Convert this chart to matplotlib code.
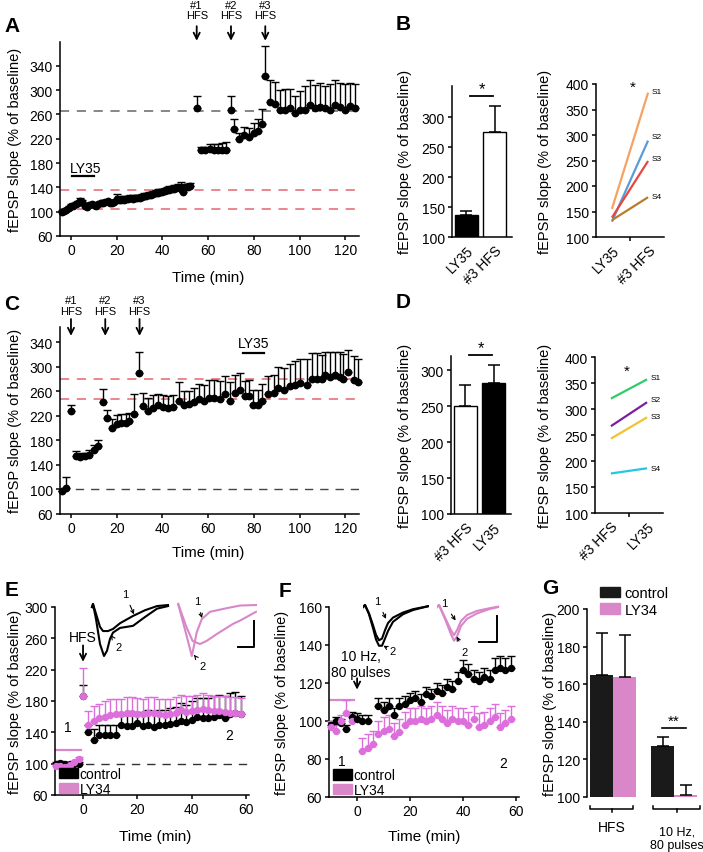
import matplotlib
matplotlib.use('Agg')
import matplotlib.pyplot as plt
import numpy as np
from matplotlib.patches import Patch

plt.rcParams['font.family'] = ['Liberation Sans', 'DejaVu Sans']
plt.rcParams['font.size'] = 10
plt.rcParams['axes.linewidth'] = 1.1
plt.rcParams['xtick.major.width'] = 1.1
plt.rcParams['ytick.major.width'] = 1.1
plt.rcParams['xtick.major.size'] = 3
plt.rcParams['ytick.major.size'] = 3
plt.rcParams['xtick.major.pad'] = 2
plt.rcParams['ytick.major.pad'] = 2

# ---------------- DATA ----------------
# Panel A
A_t_base = list(range(-4, 53))
A_base = [100,101,102,106,110,109,112,114,118,116,110,108,111,112,111,110,112,114,115,116,
          117,115,114,116,121,120,119,120,121,121,122,121,122,123,123,124,125,125,127,128,
          129,130,131,132,133,134,135,136,137,138,139,140,137,133,140,141,142]
A_base_err = [2,2,3,3,3,3,4,3,4,3,3,3,3,3,4,3,3,3,4,4,3,3,3,4,8,5,4,5,4,4,
              5,4,5,4,4,5,5,4,5,5,5,5,6,5,5,5,6,6,6,6,5,6,12,6,5,5,5]
A_t_post = [55, 57, 58.8, 60.6, 62.4, 64.2, 66, 67.6, 70, 71.4, 73.6, 75.8, 78, 79.9, 81.6, 83.7, 85,
            87, 89.2, 91.4, 93.6, 95.8, 98, 100.2, 102.4, 104.6, 106.8, 109, 111.2, 113.4, 115.6,
            117.8, 120, 122.2, 124.4]
A_post = [270, 202, 201, 203, 202, 201, 201, 201, 268, 236, 219, 226, 223, 229, 232, 244, 323,
          280, 277, 268, 268, 270, 262, 268, 268, 276, 270, 272, 270, 268, 275, 272, 268, 274, 270]
A_post_err = [21, 5, 6, 8, 9, 10, 12, 14, 22, 17, 10, 13, 15, 16, 20, 25, 49,
              36, 37, 32, 33, 32, 28, 30, 38, 40, 38, 40, 36, 42, 42, 40, 42, 38, 40]
A_hfs_times = [55, 70, 85]
A_hfs_labels = ['#1\nHFS', '#2\nHFS', '#3\nHFS']
A_ref_red = [104, 136]
A_ref_gray = 266

# Panel B
B_cats = ['LY35', '#3 HFS']
B_vals = [137, 276]
B_err = [7, 43]
B_slices = ['S1', 'S2', 'S3', 'S4']
B_start = [155, 130, 138, 133]
B_end = [383, 289, 249, 178]
B_colors = ['#f5a263', '#5b9bd8', '#e8473d', '#bb7a2c']

# Panel C
C_t = [-4, -2, 0, 2, 4, 6, 8, 10, 12, 14, 15.6, 17.8, 20, 22, 24, 25.5, 27.6, 29.8,
       31.6, 33.8, 36, 38.2, 40.4, 42.6, 44.8, 47.3, 49.6, 51.8, 54, 56.2, 58.4, 60.5, 62.7,
       65.2, 67.4, 69.6, 71.8, 74, 76.1, 78, 79.8, 82, 83.5, 86.4, 88.6, 90.7, 93.4, 95.8,
       98, 100.2, 103.1, 105.3, 107.5, 109.7, 111.2, 113.3, 115.5, 117.7, 119.2, 121.4, 123.6, 125.6]
C_vals = [97, 103, 228, 155, 153, 154, 156, 165, 171, 242, 216, 201, 206, 208, 209, 211, 223, 290,
          236, 228, 233, 238, 234, 233, 234, 245, 238, 239, 242, 247, 244, 250, 250,
          247, 255, 245, 257, 262, 252, 252, 238, 238, 244, 255, 257, 266, 263, 268,
          271, 274, 271, 280, 280, 280, 287, 284, 287, 284, 281, 292, 278, 275]
C_err = [0, 17, 10, 8, 6, 6, 8, 8, 9, 22, 14, 14, 15, 15, 14, 13, 33, 35,
         21, 22, 21, 18, 20, 20, 20, 30, 22, 22, 24, 25, 26, 28, 28,
         30, 30, 30, 30, 28, 25, 26, 25, 25, 28, 30, 30, 34, 35, 36,
         38, 38, 42, 42, 42, 40, 38, 40, 38, 40, 40, 35, 40, 38]
C_hfs_times = [0, 15, 30]
C_ref_red = [248, 281]
C_ref_black = 100

# Panel D
D_cats = ['#3 HFS', 'LY35']
D_vals = [251, 283]
D_err = [29, 24]
D_start = [320, 267, 243, 176]
D_end = [357, 313, 284, 186]
D_colors = ['#2fcc6a', '#7b1fa0', '#f2c230', '#27c6e0']

# Panel E
E_t_base = [-10, -8.3, -6.6, -4.9, -3.2, -1.5]
E_ctrl_base = [100, 101, 100, 99, 100, 100]
E_ly_base = [97, 97, 96, 98, 102, 106]
E_t_post = [0] + list(range(2, 60, 2))
E_ctrl_post = [186, 140, 130, 136, 136, 137, 137, 150, 148, 148, 152, 148, 150, 147, 150, 150,
               151, 152, 155, 153, 156, 160, 158, 158, 160, 162, 158, 164, 165, 163]
E_ctrl_err = [14, 10, 14, 14, 14, 13, 13, 12, 14, 14, 14, 16, 18, 18, 18, 18, 20, 20, 22, 22, 24,
              24, 26, 26, 26, 26, 28, 26, 26, 24]
E_ly_post = [187, 150, 155, 158, 160, 162, 163, 163, 165, 165, 164, 163, 165, 165, 163, 162,
             163, 165, 168, 166, 167, 168, 170, 168, 167, 167, 166, 165, 165, 164]
E_ly_err = [35, 17, 18, 18, 20, 20, 20, 20, 20, 20, 20, 20, 20, 20, 20, 20, 20, 20, 20, 20, 20,
            20, 20, 20, 20, 20, 20, 20, 20, 20]

# Panel F
F_t_base = [-10, -8, -6, -4, -2]
F_ctrl_base = [98, 100, 99, 96, 102]
F_ly_base = [97, 95, 100, 104, 100]
F_ctrl_base_err = [2, 2, 2, 2, 3]
F_ly_base_err = [3, 3, 3, 7, 3]
F_t_ctrl = [0, 2, 4] + list(range(8, 60, 2))
F_ctrl = [101, 100, 100, 108, 106, 108, 103, 108, 109, 111, 112, 110, 114, 113, 116, 115, 118,
          117, 121, 127, 125, 122, 121, 123, 122, 127, 128, 127, 128]
F_ctrl_err = [3, 3, 3, 4, 4, 4, 4, 4, 4, 4, 4, 4, 4, 4, 4, 4, 4, 4, 5, 5, 5, 5, 5, 5, 5, 6, 6, 6, 6]
F_t_ly = list(range(2, 60, 2))
F_ly = [84, 86, 88, 93, 95, 96, 92, 94, 98, 100, 100, 101, 100, 101, 103, 101, 99, 101, 100, 100,
        98, 101, 97, 98, 100, 102, 97, 99, 101]
F_ly_err = [7] * 29

# Panel G
G_groups = ['HFS', '10 Hz,\n80 pulses']
G_ctrl = [165, 127]
G_ctrl_err = [22, 5]
G_ly = [164, 101]
G_ly_err = [22, 5.5]

# example traces (time in ms, normalised amplitude)
E_blk_t1 = [1, 1.5, 3.5, 5, 6.5, 9, 11.5, 15, 21.5, 27.5, 33.5, 39]
E_blk_y1 = [-0.06, 0, -0.25, -0.44, -0.52, -0.52, -0.48, -0.37, -0.23, -0.12, -0.04, -0.02]
E_blk_t2 = [1, 1.5, 3, 5, 7, 8.5, 10, 11.5, 15, 21.5, 27.5, 33.5, 39]
E_blk_y2 = [-0.06, 0, -0.29, -0.77, -1.0, -0.9, -0.67, -0.55, -0.46, -0.42, -0.25, -0.09, -0.04]
E_pnk_t1 = [0.6, 4.8, 7.4, 8.5, 9.9, 12.4, 16.5, 24.9, 31.5, 39.5]
E_pnk_y1 = [0, -0.61, -1.0, -0.8, -0.54, -0.29, -0.15, -0.08, -0.03, -0.02]
E_pnk_t2 = [0.6, 4.8, 7.8, 11.5, 14.8, 19.8, 28.1, 31.5, 39.5]
E_pnk_y2 = [0, -0.45, -0.71, -0.77, -0.71, -0.58, -0.38, -0.32, -0.15]
F_blk_t1 = [0, 1, 3, 5, 6.5, 8, 9.5, 11, 12.5, 15, 20, 25, 32.5]
F_blk_y1 = [-0.05, 0, -0.2, -0.48, -0.71, -0.84, -0.8, -0.6, -0.43, -0.3, -0.18, -0.1, -0.03]
F_blk_t2 = [0, 1, 3, 5, 6.5, 8, 9.5, 11, 12.5, 15, 20, 25, 32.5]
F_blk_y2 = [-0.05, 0, -0.22, -0.55, -0.82, -0.97, -0.97, -0.8, -0.62, -0.4, -0.22, -0.12, -0.03]
F_pnk_t1 = [0, 1, 4, 7, 8.5, 10, 12, 15, 20, 26, 30.5]
F_pnk_y1 = [-0.05, 0, -0.3, -0.6, -0.72, -0.6, -0.38, -0.24, -0.14, -0.08, -0.04]
F_pnk_t2 = [0, 1, 4, 7, 8.5, 10, 12, 15, 20, 26, 30.5]
F_pnk_y2 = [-0.05, 0, -0.33, -0.7, -0.85, -0.75, -0.5, -0.33, -0.2, -0.1, -0.05]

# ---------------- STYLE ----------------
PINK_M = '#dc6fdc'
PINK_B = '#d987c9'
RED = '#e3666f'
YLAB = 'fEPSP slope (% of baseline)'

W, H = 703, 853
fig = plt.figure(figsize=(W / 100, H / 100), dpi=100)


def pax(l, t, r, b):
    ax = fig.add_axes([l / W, 1 - b / H, (r - l) / W, (b - t) / H])
    ax.spines['top'].set_visible(False)
    ax.spines['right'].set_visible(False)
    ax.patch.set_alpha(0)
    return ax


def ftext(x, y, s, **kw):
    kw.setdefault('ha', 'center')
    kw.setdefault('va', 'center')
    fig.text(x / W, 1 - y / H, s, **kw)


def errpts(ax, t, v, e, color, ms=4.6, z=3):
    e = np.asarray(e, dtype=float)
    ax.errorbar(t, v, yerr=[np.zeros(len(e)), e], fmt='o', color=color, ms=ms, mec=color,
                ecolor=color, elinewidth=1.0, capsize=2.6, capthick=1.0, zorder=z, clip_on=False)


def hfs_marks(ax, times, labels, ytext, ystart, yend, fs=8):
    for t, lab in zip(times, labels):
        ax.text(t, ytext, lab, ha='center', va='center', fontsize=fs, linespacing=1.05)
        ax.annotate('', xy=(t, yend), xytext=(t, ystart), annotation_clip=False,
                    arrowprops=dict(arrowstyle='->', lw=1.3, color='k',
                                    shrinkA=0, shrinkB=0, mutation_scale=11))


DASH = (0, (6, 5))

# ---------------- Panel A ----------------
axA = pax(60, 43, 359, 237)
axA.set_xlim(-4.8, 126)
axA.set_ylim(60, 379)
axA.set_yticks(range(60, 341, 40))
axA.set_xticks(range(0, 121, 20))
for r in A_ref_red:
    axA.axhline(r, color=RED, ls=DASH, lw=1.1, zorder=1)
axA.axhline(A_ref_gray, color='#666666', ls=DASH, lw=1.1, zorder=1)
errpts(axA, A_t_base, A_base, A_base_err, 'k')
errpts(axA, A_t_post, A_post, A_post_err, 'k')
axA.plot([0.5, 10], [158, 158], color='k', lw=1.6)
axA.text(6.5, 171, 'LY35', ha='center', va='center', fontsize=10)
hfs_marks(axA, A_hfs_times, A_hfs_labels, 432, 405, 381)

# ---------------- Panel B ----------------
def bar_panel(ax, cats, vals, err, colors, ylim, sig_y, star_y):
    x = np.arange(len(cats))
    ax.bar(x, vals, width=0.8, color=colors, edgecolor='k', linewidth=1.0, zorder=2)
    ax.errorbar(x, vals, yerr=[[0] * len(err), err], fmt='none', ecolor='k', elinewidth=1.1,
                capsize=4, capthick=1.1, zorder=3)
    ax.set_xlim(-0.5, 1.6)
    ax.set_ylim(*ylim)
    ax.set_yticks(range(100, 301, 50))
    ax.set_xticks(x)
    ax.set_xticklabels(cats, rotation=45, ha='right', rotation_mode='anchor')
    ax.tick_params(axis='x', length=0, pad=4)
    ax.plot([0.13, 0.94], [sig_y, sig_y], color='k', lw=1.3, clip_on=False)
    ax.text(0.55, star_y, '*', ha='center', va='center', fontsize=12, clip_on=False)


def line_panel(ax, cats, start, end, colors, labels, lab_y, star_xy):
    for s, e, c in zip(start, end, colors):
        ax.plot([0, 1], [s, e], color=c, lw=1.6, solid_capstyle='butt')
    for lab, ly in zip(labels, lab_y):
        ax.text(1.11, ly, lab, ha='left', va='center', fontsize=6)
    ax.set_xlim(-0.44, 1.44)
    ax.set_ylim(100, 400)
    ax.set_yticks(range(100, 401, 50))
    ax.set_xticks([0.5])
    ax.set_xticklabels([''])
    ax.set_xticks([0, 1], minor=True)
    ax.set_xticklabels(cats, minor=True, rotation=45, ha='right', rotation_mode='anchor')
    ax.tick_params(axis='x', which='minor', length=0, pad=4)
    ax.text(star_xy[0], star_xy[1], '*', ha='center', va='center', fontsize=11)


axB1 = pax(452, 87, 512, 238)
bar_panel(axB1, B_cats, B_vals, B_err, ['black', 'white'], (100, 352), 335, 347)
axB2 = pax(596, 85, 664, 238)
line_panel(axB2, B_cats, B_start, B_end, B_colors, B_slices, [386, 298, 253, 180], (0.58, 394))

# ---------------- Panel C ----------------
axC = pax(60, 328, 359, 515)
axC.set_xlim(-4.8, 126)
axC.set_ylim(60, 365)
axC.set_yticks(range(60, 341, 40))
axC.set_xticks(range(0, 121, 20))
for r in C_ref_red:
    axC.axhline(r, color=RED, ls=DASH, lw=1.1, zorder=1)
axC.axhline(C_ref_black, color='#444444', ls=DASH, lw=1.0, zorder=1)
errpts(axC, C_t, C_vals, C_err, 'k')
axC.plot([75.3, 84.5], [322, 322], color='k', lw=1.6)
axC.text(80, 339, 'LY35', ha='center', va='center', fontsize=10)
hfs_marks(axC, C_hfs_times, A_hfs_labels, 400, 378, 350.5)

# ---------------- Panel D ----------------
axD1 = pax(451, 357, 511, 515)
bar_panel(axD1, D_cats, D_vals, D_err, ['white', 'black'], (100, 320), 321, 331)
axD2 = pax(595, 358, 663, 514)
line_panel(axD2, D_cats, D_start, D_end, D_colors, B_slices, [360, 319, 285, 185], (0.44, 373))

# ---------------- Panel E ----------------
axE = pax(55, 608, 249, 796)
axE.set_xlim(-10.3, 61)
axE.set_ylim(60, 300)
axE.set_yticks(range(60, 301, 40))
axE.set_xticks(range(0, 61, 20))
axE.axhline(100, color='#333333', ls=DASH, lw=1.0, zorder=1)
axE.plot([-10.3, -0.7], [118, 118], color=PINK_B, lw=1.6)
errpts(axE, E_t_base, E_ctrl_base, [2] * len(E_t_base), 'k', ms=4.3)
errpts(axE, E_t_base, E_ly_base, [2] * len(E_t_base), PINK_M, ms=4.3)
errpts(axE, E_t_post, E_ctrl_post, E_ctrl_err, 'k', ms=4.3, z=3)
errpts(axE, E_t_post, E_ly_post, E_ly_err, PINK_M, ms=4.3, z=4)
axE.text(0, 262, 'HFS', ha='center', va='center', fontsize=10)
axE.annotate('', xy=(0, 230), xytext=(0, 251), arrowprops=dict(arrowstyle='->', lw=1.3,
             color='k', shrinkA=0, shrinkB=0, mutation_scale=11))
axE.text(-5.5, 147, '1', ha='center', va='center', fontsize=10)
axE.text(53.6, 137, '2', ha='center', va='center', fontsize=10)
axE.legend(handles=[Patch(color='k', label='control'), Patch(color=PINK_B, label='LY34')],
           loc='lower left', bbox_to_anchor=(0.02, -0.005), frameon=False, fontsize=10,
           handlelength=1.4, handleheight=0.75, handletextpad=0.1, labelspacing=0.05,
           borderpad=0, borderaxespad=0)

# ---------------- Panel F ----------------
axF = pax(329, 608, 519, 798)
axF.set_xlim(-10.6, 61.1)
axF.set_ylim(60, 160)
axF.set_yticks(range(60, 161, 20))
axF.set_xticks(range(0, 61, 20))
axF.plot([-10.6, -1], [111, 111], color=PINK_B, lw=1.6)
errpts(axF, F_t_base, F_ctrl_base, F_ctrl_base_err, 'k', ms=4.3)
errpts(axF, F_t_base, F_ly_base, F_ly_base_err, PINK_M, ms=4.3)
errpts(axF, F_t_ctrl, F_ctrl, F_ctrl_err, 'k', ms=4.3)
errpts(axF, F_t_ly, F_ly, F_ly_err, PINK_M, ms=4.3)
axF.text(1.5, 130, '10 Hz,\n80 pulses', ha='center', va='center', fontsize=10, linespacing=1.1)
axF.annotate('', xy=(0, 116.5), xytext=(0, 122.5), arrowprops=dict(arrowstyle='->', lw=1.3,
             color='k', shrinkA=0, shrinkB=0, mutation_scale=11))
axF.text(-5.7, 79, '1', ha='center', va='center', fontsize=10)
axF.text(55, 78, '2', ha='center', va='center', fontsize=10)
axF.legend(handles=[Patch(color='k', label='control'), Patch(color=PINK_B, label='LY34')],
           loc='lower left', bbox_to_anchor=(0.02, 0.0), frameon=False, fontsize=10,
           handlelength=1.4, handleheight=0.75, handletextpad=0.1, labelspacing=0.05,
           borderpad=0, borderaxespad=0)

# ---------------- Panel G ----------------
axG = pax(587, 610, 703, 798)
gx_ctrl = [0.63, 3.3]
gx_ly = [1.63, 4.3]
axG.bar(gx_ctrl, G_ctrl, width=1.0, color='#1a1a1a', zorder=2)
axG.bar(gx_ly, G_ly, width=1.0, color=PINK_B, zorder=2)
axG.errorbar(gx_ctrl, G_ctrl, yerr=[[0, 0], G_ctrl_err], fmt='none', ecolor='k', elinewidth=1.1,
             capsize=4, capthick=1.1, zorder=3)
axG.errorbar(gx_ly, G_ly, yerr=[[0, 0], G_ly_err], fmt='none', ecolor='k', elinewidth=1.1,
             capsize=4, capthick=1.1, zorder=3)
axG.set_xlim(0, 5.04)
axG.set_ylim(100, 200)
axG.set_yticks(range(100, 201, 20))
axG.spines['bottom'].set_visible(False)
axG.set_xticks([])
for (x0, x1, xm), lab in zip([(0.13, 2.0, 1.07), (2.87, 4.91, 3.9)], G_groups):
    axG.plot([x0, x0, x1, x1], [95.4, 93.6, 93.6, 95.4], color='k', lw=1.1, clip_on=False)
    axG.plot([xm, xm], [93.6, 92.0], color='k', lw=1.1, clip_on=False)
axG.text(1.07, 84, G_groups[0], ha='center', va='center', fontsize=10, clip_on=False)
axG.text(3.9, 78, G_groups[1], ha='center', va='center', fontsize=9, linespacing=1.15,
         clip_on=False)
axG.plot([3.26, 4.3], [136.7, 136.7], color='k', lw=1.2)
axG.text(3.78, 140.5, '**', ha='center', va='center', fontsize=11)
axG.legend(handles=[Patch(color='#1a1a1a', label='control'), Patch(color=PINK_B, label='LY34')],
           loc='upper left', bbox_to_anchor=(0.11, 1.12), frameon=False, fontsize=10.5,
           handlelength=1.4, handleheight=0.7, handletextpad=0.3, labelspacing=0.15,
           borderpad=0, borderaxespad=0)

# ---------------- traces ----------------
def trace_ax(l, t, r, b, xlim, ylim):
    ax = fig.add_axes([l / W, 1 - b / H, (r - l) / W, (b - t) / H])
    ax.set_xlim(*xlim)
    ax.set_ylim(*ylim)
    ax.axis('off')
    return ax


def tlabel(ax, s, txy, axy):
    ax.annotate(s, xy=axy, xytext=txy, fontsize=8, ha='center', va='center',
                annotation_clip=False,
                arrowprops=dict(arrowstyle='->', lw=0.8, color='k', shrinkA=3, shrinkB=0,
                                mutation_scale=6))


tE1 = trace_ax(90, 600, 170, 662, (0, 40), (-1.096, 0.096))
tE1.plot(E_blk_t1, E_blk_y1, color='k', lw=1.5)
tE1.plot(E_blk_t2, E_blk_y2, color='k', lw=1.5)
tlabel(tE1, '1', (17.5, 0.2), (22, -0.2))
tlabel(tE1, '2', (14.5, -0.83), (10.5, -0.6))

tE2 = trace_ax(177, 600, 257, 662, (0, 40), (-1.096, 0.096))
tE2.plot(E_pnk_t1, E_pnk_y1, color=PINK_B, lw=1.5)
tE2.plot(E_pnk_t2, E_pnk_y2, color=PINK_B, lw=1.5)
tlabel(tE2, '1', (10, 0.06), (12.5, -0.27))
tlabel(tE2, '2', (13, -1.19), (8.5, -0.98))

tF1 = trace_ax(363, 602, 429, 652, (0, 33), (-1.095, 0.095))
tF1.plot(F_blk_t1, F_blk_y1, color='k', lw=1.5)
tF1.plot(F_blk_t2, F_blk_y2, color='k', lw=1.5)
tlabel(tF1, '1', (7.3, 0.1), (11.5, -0.33))
tlabel(tF1, '2', (14.7, -1.09), (10.2, -0.97))

tF2 = trace_ax(437, 602, 501, 652, (0, 32), (-1.095, 0.095))
tF2.plot(F_pnk_t1, F_pnk_y1, color=PINK_B, lw=1.5)
tF2.plot(F_pnk_t2, F_pnk_y2, color=PINK_B, lw=1.5)
tlabel(tF2, '1', (3.5, 0.05), (9.3, -0.37))
tlabel(tF2, '2', (14, -1.13), (9.8, -0.75))

# scale bars (figure coordinates)
for (hx0, hx1, vy0, vy1) in [(238, 254, 622, 648), (479, 497, 617, 643)]:
    fig.add_artist(plt.Line2D([hx0 / W, hx1 / W, hx1 / W], [1 - vy1 / H, 1 - vy1 / H, 1 - vy0 / H],
                              color='k', lw=1.4))

# ---------------- labels ----------------
for (x, y, s) in [(12, 26, 'A'), (403, 25, 'B'), (12, 305, 'C'), (403, 303, 'D'),
                  (12, 590, 'E'), (285, 592, 'F'), (550, 588, 'G')]:
    ftext(x, y, s, fontsize=15, fontweight='bold')

for (x, y) in [(15, 140), (405, 162), (545, 162), (15, 421), (405, 436), (545, 436),
               (15, 702), (282, 703), (550, 704)]:
    ftext(x, y, YLAB, rotation=90, fontsize=10.5)

for (x, y) in [(208, 278), (208, 553), (155, 837), (424, 837)]:
    ftext(x, y, 'Time (min)', fontsize=11)

fig.savefig('out.png', dpi=100)
